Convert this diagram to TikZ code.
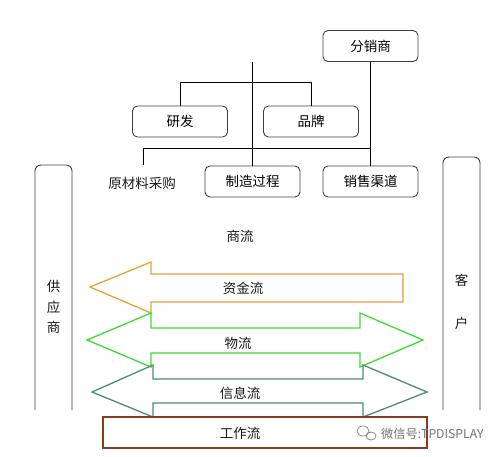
\documentclass[tikz,border=0pt]{standalone}
\usepackage{fontspec}
\setmainfont{Noto Sans CJK SC}
\begin{document}
\begin{tikzpicture}[x=1pt,y=-1pt,
  box/.style={draw=black!75,line width=0.9pt,rounded corners=5pt,inner sep=0pt,
    minimum width=95pt,minimum height=31pt,font=\fontsize{13.5}{15}\selectfont},
  lbl/.style={inner sep=0pt,font=\fontsize{13.5}{15}\selectfont,text=black!90},
  conn/.style={draw=black,line width=0.9pt},
  side/.style={draw=black!75,line width=0.9pt,rounded corners=6pt}]
\useasboundingbox (0,0) rectangle (504,456);
\definecolor{orangeA}{HTML}{E5A235}
\definecolor{greenA}{HTML}{3ADD2E}
\definecolor{tealA}{HTML}{4E8C72}
\definecolor{brownA}{HTML}{8A3A1E}
% top boxes
\node[box] (fx) at (370.5,46) {分销商};
\node[box] (yf) at (180,121.5) {研发};
\node[box] (pp) at (311,121.5) {品牌};
\node[box] (zz) at (252.5,181.5) {制造过程};
\node[box] (xs) at (370.5,181.5) {销售渠道};
\node[lbl] (yl) at (142,183) {原材料采购};
% connectors
\coordinate (ctop) at (252.5,62);
\coordinate (b1l) at (180,82);
\coordinate (b1r) at (311,82);
\coordinate (b2l) at (143,148);
\coordinate (b2r) at (370.5,148);
\coordinate (ylt) at (143,165);
\draw[conn] (ctop) -- (zz.north);
\draw[conn] (fx.south) -- (xs.north);
\draw[conn] (yf.north) -- (b1l) -- (b1r) -- (pp.north);
\draw[conn] (ylt) -- (b2l) -- (b2r);
% side boxes
\draw[side] (35,410) -- (35,165) -- (72,165) -- (72,410);
\draw[side] (443,410) -- (443,157) -- (480,157) -- (480,410);
\node[lbl,align=center,font=\fontsize{13.5}{20.5}\selectfont] (gys) at (53.5,307) {供\\应\\商};
\node[lbl] (k1) at (461.5,280) {客};
\node[lbl] (k2) at (461.5,323) {户};
% shang liu
\node[lbl] (sl) at (240,236) {商流};
% orange arrow (left)
\draw[orangeA,line width=1.3pt,line join=miter]
  (90,287) -- (151,262) -- (151,274) -- (403,274) -- (403,302) -- (151,302) -- (151,313) -- cycle;
\node[lbl] (zj) at (243,288) {资金流};
% green double arrow
\draw[greenA,line width=1.3pt]
  (87,340) -- (151,313) -- (151,328) -- (360,328) -- (360,313) -- (423,340)
  -- (360,367) -- (360,353) -- (151,353) -- (151,367) -- cycle;
\node[lbl] (wl) at (238,343) {物流};
% teal double arrow
\draw[tealA,line width=1.3pt]
  (92,392) -- (153,365) -- (153,379) -- (363,379) -- (363,365) -- (427,392)
  -- (363,417) -- (363,403) -- (153,403) -- (153,417) -- cycle;
\node[lbl] (xx) at (240,393) {信息流};
% work flow box
\node[draw=brownA,line width=1.3pt,minimum width=324pt,minimum height=31pt,inner sep=0pt] (gz) at (265,432.5) {};
\node[lbl] (gzt) at (240,433) {工作流};
% watermark
\begin{scope}[black!45,line width=0.8pt]
\draw (363,431) ellipse (6pt and 5pt);
\draw (371,436) ellipse (5pt and 4pt);
\end{scope}
\node[anchor=west,inner sep=0pt,text=black!55,font=\fontsize{12.2}{14}\selectfont] (wm) at (381,434) {微信号:TPDISPLAY};
\end{tikzpicture}
\end{document}
